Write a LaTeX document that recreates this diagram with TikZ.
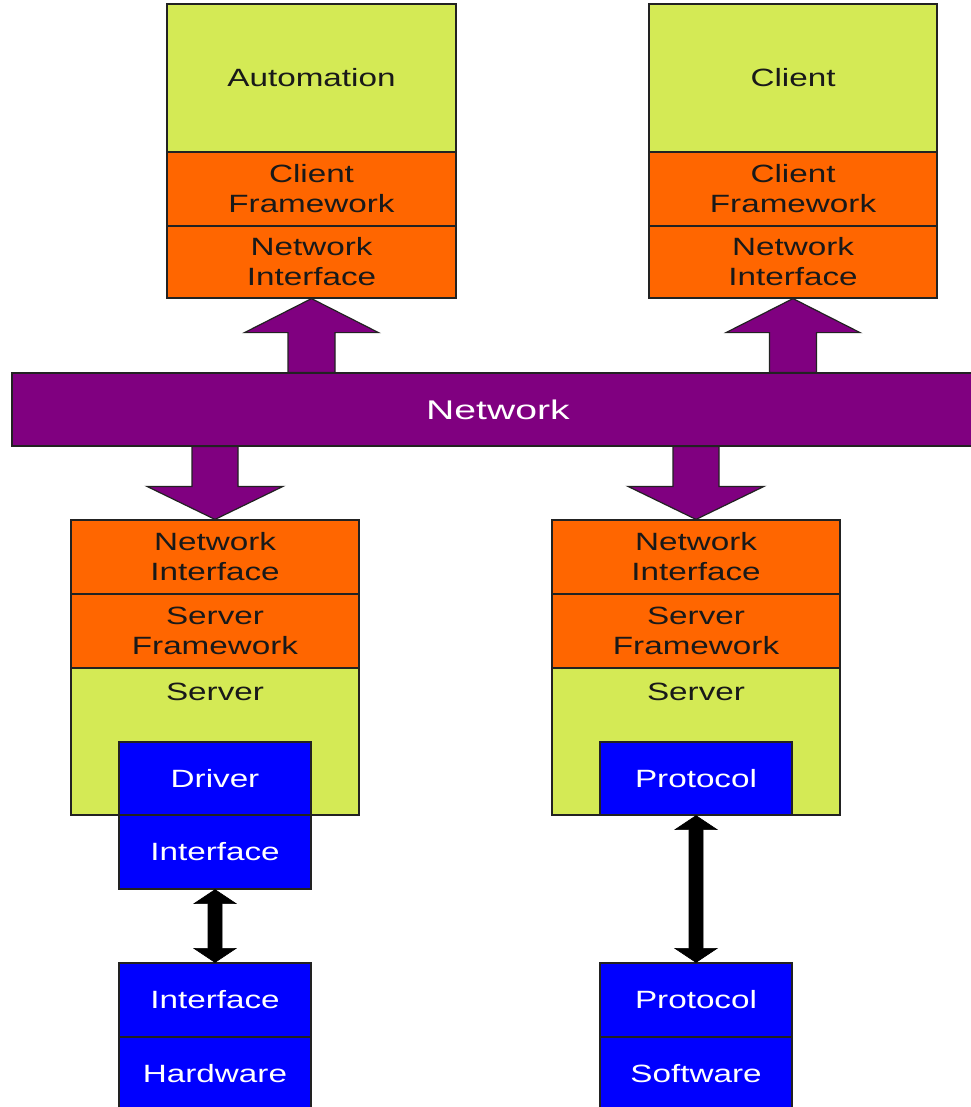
\documentclass[tikz,border=0pt]{standalone}
\usepackage{fontspec}
\setmainfont[FakeStretch=1.33]{Liberation Sans}
\usetikzlibrary{calc}
\definecolor{lgreen}{HTML}{D4EA55}
\definecolor{orng}{HTML}{FF6600}
\definecolor{purp}{HTML}{800080}
\definecolor{blu}{HTML}{0000FF}
\definecolor{edge}{HTML}{222222}
\tikzset{
  layer/.style={draw=edge, line width=1.2pt, rectangle, inner sep=0pt, align=center,
    font=\fontsize{25}{30}\selectfont, text=black!90},
  greenbox/.style={layer, fill=lgreen},
  orangebox/.style={layer, fill=orng},
  bluebox/.style={layer, fill=blu, text=white},
  w288/.style={minimum width=288pt},
  w192/.style={minimum width=192pt},
  h74/.style={minimum height=74pt},
  netbar/.style={layer, fill=purp, text=white, font=\fontsize{27}{32}\selectfont\addfontfeature{FakeStretch=1.45}},
  parrow/.style={draw=edge, line width=1.2pt, fill=purp},
  barrow/.style={draw=black, line width=0.6pt, fill=black},
}
\newcommand\myuparr[2]{%
  \path[parrow] (#1.south) -- ++(67,34) -- ++(-43.5,0) -- ($(#1.south |- #2.north)+(23.5,0)$)
    -- ++(-47,0) -- ($(#1.south)+(-23.5,34)$) -- ++(-43.5,0) -- cycle;}
\newcommand\mydownarr[2]{%
  \path[parrow] (#2.north) -- ++(68,-33) -- ++(-45,0) -- ($(#2.north |- #1.south)+(23,0)$)
    -- ++(-46,0) -- ($(#2.north)+(-23,-33)$) -- ++(-45,0) -- cycle;}
\newcommand\mydblarr[2]{%
  \path[barrow] (#1.south) -- ++(21,14) -- ++(-14,0) -- ($(#2.north)+(7,-14)$) -- ++(14,0)
    -- (#2.north) -- ++(-21,-14) -- ++(14,0) -- ($(#1.south)+(-7,14)$) -- ++(-14,0) -- cycle;}
\begin{document}
\begin{tikzpicture}[x=1pt,y=-1pt]
\useasboundingbox (0,0) rectangle (970,1107);
% top-left stack
\node[greenbox, minimum width=289pt, minimum height=148pt] (auto) at (311.5,78) {Automation};
\node[orangebox, minimum width=289pt, h74] (cf1) at (311.5,189) {Client\\Framework};
\node[orangebox, minimum width=289pt, minimum height=72pt] (ni1) at (311.5,262) {Network\\Interface};
% top-right stack
\node[greenbox, w288, minimum height=148pt] (client) at (793,78) {Client};
\node[orangebox, w288, h74] (cf2) at (793,189) {Client\\Framework};
\node[orangebox, w288, minimum height=72pt] (ni2) at (793,262) {Network\\Interface};
% network bar
\node[netbar, minimum width=972pt, minimum height=73pt] (net) at (498,409.5) {Network};
% bottom-left stack
\node[orangebox, w288, h74] (ni3) at (215,557) {Network\\Interface};
\node[orangebox, w288, h74] (sf3) at (215,631) {Server\\Framework};
\node[greenbox, w288, minimum height=147pt] (srv3) at (215,741.5) {};
\node[layer, draw=none, anchor=center] (srv3t) at ($(srv3.north)+(0,24)$) {Server};
\node[bluebox, w192, minimum height=73pt] (drv) at (215,778.5) {Driver};
\node[bluebox, w192, h74] (if3) at (215,852) {Interface};
\node[bluebox, w192, h74] (if4) at (215,1000) {Interface};
\node[bluebox, w192, h74] (hw) at (215,1074) {Hardware};
% bottom-right stack
\node[orangebox, w288, h74] (ni4) at (696,557) {Network\\Interface};
\node[orangebox, w288, h74] (sf4) at (696,631) {Server\\Framework};
\node[greenbox, w288, minimum height=147pt] (srv4) at (696,741.5) {};
\node[layer, draw=none, anchor=center] (srv4t) at ($(srv4.north)+(0,24)$) {Server};
\node[bluebox, w192, minimum height=73pt] (prot) at (696,778.5) {Protocol};
\node[bluebox, w192, h74] (prot2) at (696,1000) {Protocol};
\node[bluebox, w192, h74] (sw) at (696,1074) {Software};
% block arrows
\myuparr{ni1}{net}
\myuparr{ni2}{net}
\mydownarr{net}{ni3}
\mydownarr{net}{ni4}
\mydblarr{if3}{if4}
\mydblarr{prot}{prot2}
\end{tikzpicture}
\end{document}
